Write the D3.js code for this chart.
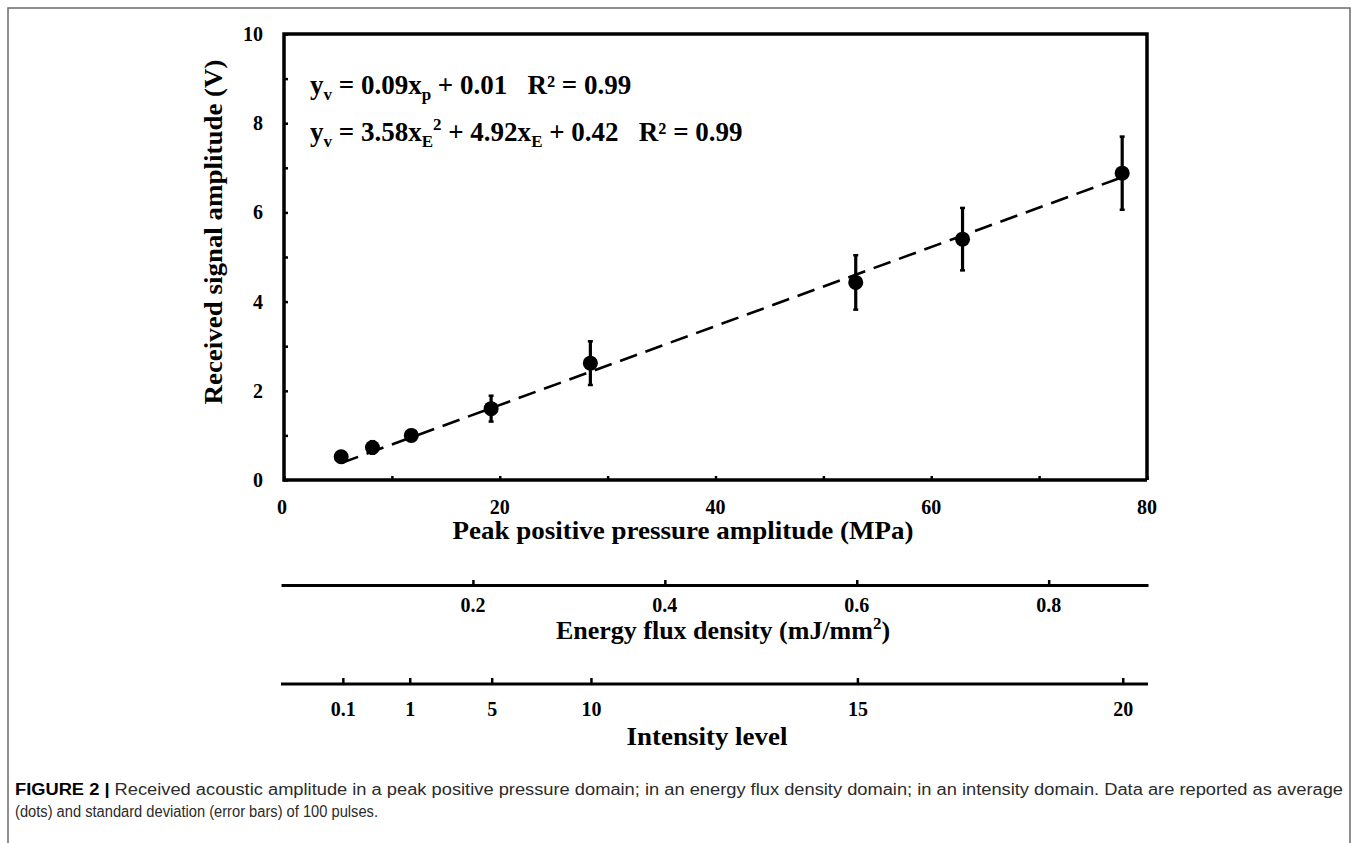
<!DOCTYPE html>
<html>
<head>
<meta charset="utf-8">
<script src="https://cdn.jsdelivr.net/npm/d3@7/dist/d3.min.js"></script>
<style>
  html, body { margin: 0; padding: 0; background: #fff; }
  svg { display: block; }
  .serif { font-family: "Liberation Serif", "Times New Roman", serif; font-weight: bold; fill: #000; }
  .cap { font-family: "Liberation Sans", Arial, sans-serif; }
</style>
</head>
<body>
<svg id="chart" width="1358" height="843"></svg>
<script>
// ---------- data ----------
const pressureMPa   = [5.3, 8.2, 11.8, 19.2, 28.4, 53.0, 62.9, 77.7];
const amplitudeV    = [0.52, 0.73, 1.00, 1.60, 2.62, 4.43, 5.40, 6.88];
const amplitudeSD   = [0.05, 0.14, 0.12, 0.29, 0.49, 0.61, 0.70, 0.82];
const trendX        = [5.3, 77.7];
const trendY        = [0.38, 6.79];
const yTicks        = [0, 2, 4, 6, 8, 10];
const yMinorTicks   = [1, 3, 5, 7, 9];
const xTicks        = [0, 20, 40, 60, 80];
const xMinorTicks   = [10, 30, 50, 70];
const energyTicks   = [0.2, 0.4, 0.6, 0.8];
const intensityLabels   = ["0.1", "1", "5", "10", "15", "20"];
const intensityPressure = [5.5, 11.7, 19.3, 28.5, 53.2, 77.8];

// ---------- layout ----------
const svg = d3.select("#chart");
const L = 284, R = 1147, T = 34, B = 480;
const x = d3.scaleLinear().domain([0, 80]).range([L, R]);
const y = d3.scaleLinear().domain([0, 10]).range([B, T]);
const eScale = d3.scaleLinear().domain([0, 0.9035]).range([281, 1148]);

// outer frame
svg.append("path").attr("d", "M8,843 V8 H1350 V843")
  .attr("fill", "none").attr("stroke", "#6a6a6a").attr("stroke-width", 1.5);

// ---------- main axes ----------
const yAxis = d3.axisRight(y).tickValues(yTicks.concat(yMinorTicks)).tickSize(4).tickFormat("");
const gy = svg.append("g").attr("transform", `translate(${L},0)`).call(yAxis);
const xAxis = d3.axisTop(x).tickValues(xTicks.concat(xMinorTicks)).tickSize(4).tickFormat("");
const gx = svg.append("g").attr("transform", `translate(0,${B})`).call(xAxis);
[gy, gx].forEach(g => {
  g.select(".domain").remove();
  g.selectAll(".tick line").attr("stroke", "#000").attr("stroke-width", 2.5);
});
// box
svg.append("path")
  .attr("d", `M${R},${B} V${T} H${L} V${B} H${R}`)
  .attr("fill", "none").attr("stroke", "#000").attr("stroke-width", 3.5)
  .attr("stroke-linejoin", "miter");

// tick labels
svg.selectAll(".ylab").data(yTicks).join("text")
  .attr("class", "serif").attr("x", 263).attr("y", d => y(d) + 7)
  .attr("text-anchor", "end").attr("font-size", 20).text(d => d);
svg.selectAll(".xlab").data(xTicks).join("text")
  .attr("class", "serif").attr("x", d => x(d) - (d === 0 ? 2 : 0)).attr("y", 514)
  .attr("text-anchor", "middle").attr("font-size", 20).text(d => d);

// axis titles
svg.append("text").attr("class", "serif").attr("font-size", 26)
  .attr("text-anchor", "middle")
  .attr("transform", "translate(222,232) rotate(-90)")
  .attr("textLength", 345).attr("lengthAdjust", "spacingAndGlyphs")
  .text("Received signal amplitude (V)");
svg.append("text").attr("class", "serif").attr("font-size", 26)
  .attr("text-anchor", "middle").attr("x", 683).attr("y", 539)
  .attr("textLength", 461).attr("lengthAdjust", "spacingAndGlyphs")
  .text("Peak positive pressure amplitude (MPa)");

// ---------- trend line ----------
const line = d3.line().x(d => x(d[0])).y(d => y(d[1]));
svg.append("path").datum(d3.zip(trendX, trendY)).attr("d", line)
  .attr("fill", "none").attr("stroke", "#000").attr("stroke-width", 2.6)
  .attr("stroke-dasharray", "18,9");

// ---------- error bars + points ----------
const pts = pressureMPa.map((p, i) => ({ p, v: amplitudeV[i], sd: amplitudeSD[i] }));
const eg = svg.append("g");
eg.selectAll("line.eb").data(pts).join("line")
  .attr("x1", d => x(d.p)).attr("x2", d => x(d.p))
  .attr("y1", d => y(d.v - d.sd)).attr("y2", d => y(d.v + d.sd))
  .attr("stroke", "#000").attr("stroke-width", 3.2);
eg.selectAll("line.cap1").data(pts).join("line")
  .attr("x1", d => x(d.p) - 2.5).attr("x2", d => x(d.p) + 2.5)
  .attr("y1", d => y(d.v + d.sd)).attr("y2", d => y(d.v + d.sd))
  .attr("stroke", "#000").attr("stroke-width", 2.5);
eg.selectAll("line.cap2").data(pts).join("line")
  .attr("x1", d => x(d.p) - 2.5).attr("x2", d => x(d.p) + 2.5)
  .attr("y1", d => y(d.v - d.sd)).attr("y2", d => y(d.v - d.sd))
  .attr("stroke", "#000").attr("stroke-width", 2.5);
svg.selectAll("circle.pt").data(pts).join("circle")
  .attr("cx", d => x(d.p)).attr("cy", d => y(d.v)).attr("r", 7.5).attr("fill", "#000");

// ---------- equations ----------
function eq(yPos, parts) {
  const t = svg.append("text").attr("class", "serif").attr("font-size", 27)
    .attr("x", 310).attr("y", yPos).attr("xml:space", "preserve");
  parts.forEach(([s, kind]) => {
    const ts = t.append("tspan").text(s);
    if (kind === "sub") ts.attr("font-size", 17).attr("dy", 6);
    if (kind === "back") ts.attr("dy", -6);
    if (kind === "backsup") ts.attr("dy", 11);
    if (kind === "supsub") ts.attr("font-size", 17).attr("dy", -17);
  });
  return t;
}
eq(94, [["y", ""], ["v", "sub"], [" = 0.09x", "back"], ["p", "sub"], [" + 0.01   R² = 0.99", "back"]]);
eq(141, [["y", ""], ["v", "sub"], [" = 3.58x", "back"], ["E", "sub"], ["2", "supsub"], [" + 4.92x", "backsup"],
         ["E", "sub"], [" + 0.42   R² = 0.99", "back"]]);

// ---------- energy flux density axis ----------
const ge = svg.append("g").attr("transform", "translate(0,585)")
  .call(d3.axisTop(eScale).tickValues(energyTicks).tickSize(5).tickSizeOuter(0).tickFormat(""));
ge.select(".domain").attr("stroke", "#000").attr("stroke-width", 3);
ge.selectAll(".tick line").attr("stroke", "#000").attr("stroke-width", 2.5);
svg.selectAll(".elab").data(energyTicks).join("text")
  .attr("class", "serif").attr("font-size", 20).attr("text-anchor", "middle")
  .attr("x", d => eScale(d)).attr("y", 612).text(d => d3.format(".1f")(d));
const et = svg.append("text").attr("class", "serif").attr("font-size", 26)
  .attr("text-anchor", "middle").attr("x", 723).attr("y", 639);
et.append("tspan").text("Energy flux density (mJ/mm");
et.append("tspan").text("2").attr("font-size", 17).attr("dy", -10);
et.append("tspan").text(")").attr("dy", 10);

// ---------- intensity axis ----------
const intens = intensityLabels.map((l, i) => ({ l, p: intensityPressure[i] }));
const gi = svg.append("g").attr("transform", "translate(0,684)");
gi.append("line").attr("x1", eScale.range()[0]).attr("x2", eScale.range()[1])
  .attr("stroke", "#000").attr("stroke-width", 3);
gi.selectAll("line.t").data(intens).join("line")
  .attr("x1", d => x(d.p)).attr("x2", d => x(d.p)).attr("y1", 0).attr("y2", -6)
  .attr("stroke", "#000").attr("stroke-width", 2.5);
svg.selectAll(".ilab").data(intens).join("text")
  .attr("class", "serif").attr("font-size", 20).attr("text-anchor", "middle")
  .attr("x", d => x(d.p)).attr("y", 716).text(d => d.l);
svg.append("text").attr("class", "serif").attr("font-size", 26)
  .attr("text-anchor", "middle").attr("x", 707).attr("y", 745)
  .attr("textLength", 161).attr("lengthAdjust", "spacingAndGlyphs").text("Intensity level");

// ---------- caption ----------
const c1 = svg.append("text").attr("class", "cap").attr("x", 15).attr("y", 795)
  .attr("font-size", 16).attr("fill", "#2b2b2b");
c1.append("tspan").text("FIGURE 2 | ").attr("font-weight", "bold").attr("fill", "#000");
c1.append("tspan").text("Received acoustic amplitude in a peak positive pressure domain; in an energy flux density domain; in an intensity domain. Data are reported as average");
c1.attr("textLength", 1328).attr("lengthAdjust", "spacingAndGlyphs");
svg.append("text").attr("class", "cap").attr("x", 15).attr("y", 817)
  .attr("font-size", 16).attr("fill", "#2b2b2b")
  .attr("textLength", 363).attr("lengthAdjust", "spacingAndGlyphs")
  .text("(dots) and standard deviation (error bars) of 100 pulses.");
</script>
</body>
</html>
